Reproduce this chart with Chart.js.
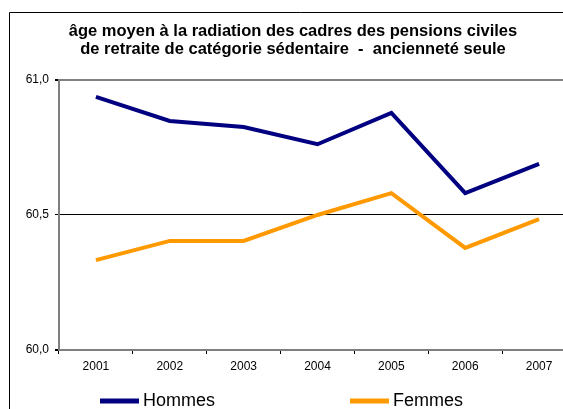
<!DOCTYPE html>
<html><head><meta charset="utf-8">
<script src="https://cdn.jsdelivr.net/npm/chart.js@4"></script>
<style>
html,body{margin:0;padding:0;background:#fff;overflow:hidden;width:563px;height:409px}
#wrap{position:absolute;left:0;top:0;width:590px;height:409px}
canvas{display:block}
</style></head>
<body><div id="wrap"><canvas id="c" width="590" height="409"></canvas></div>
<script>
const categories = ['2001','2002','2003','2004','2005','2006','2007'];
const hommes = [60.937, 60.848, 60.826, 60.762, 60.878, 60.581, 60.689];
const femmes = [60.333, 60.404, 60.404, 60.500, 60.581, 60.378, 60.485];
const seriesNames = ['Hommes','Femmes'];
const seriesColors = ['#000080','#FF9900'];
const yTickValues = [60.0, 60.5, 61.0];
const yTickLabels = ['60,0','60,5','61,0'];
const titleLines = ['âge moyen à la radiation des cadres des pensions civiles',
                    'de retraite de catégorie sédentaire  -  ancienneté seule'];

const FONT = "'Liberation Sans', Arial, sans-serif";
Chart.defaults.font.family = FONT;
Chart.defaults.color = '#000';

const legendX = [100, 350];

const framePlugin = {
  id: 'framePlugin',
  beforeDraw(chart) {
    const ctx = chart.ctx;
    ctx.save();
    ctx.fillStyle = '#fff';
    ctx.fillRect(0, 0, chart.width, chart.height);
    ctx.strokeStyle = '#000';
    ctx.lineWidth = 1;
    ctx.beginPath();
    ctx.moveTo(9.5, chart.height + 5);
    ctx.lineTo(9.5, 12.5);
    ctx.lineTo(chart.width + 5, 12.5);
    ctx.stroke();
    ctx.restore();
  },
  afterDraw(chart) {
    const ctx = chart.ctx;
    ctx.save();
    chart.data.datasets.forEach((ds, i) => {
      const x = legendX[i];
      const y = 401;
      ctx.strokeStyle = ds.borderColor;
      ctx.lineWidth = 5;
      ctx.beginPath();
      ctx.moveTo(x, y);
      ctx.lineTo(x + 39, y);
      ctx.stroke();
      ctx.fillStyle = '#000';
      ctx.font = '18px ' + FONT;
      ctx.textBaseline = 'middle';
      ctx.textAlign = 'left';
      ctx.fillText(ds.label, x + 43, y);
    });
    ctx.restore();
  }
};

new Chart(document.getElementById('c'), {
  type: 'line',
  data: {
    labels: categories,
    datasets: [
      { label: seriesNames[0], data: hommes, borderColor: seriesColors[0], backgroundColor: seriesColors[0],
        borderWidth: 4, pointRadius: 0, tension: 0, fill: false, borderJoinStyle: 'miter' },
      { label: seriesNames[1], data: femmes, borderColor: seriesColors[1], backgroundColor: seriesColors[1],
        borderWidth: 4, pointRadius: 0, tension: 0, fill: false, borderJoinStyle: 'miter' }
    ]
  },
  options: {
    responsive: false,
    animation: false,
    devicePixelRatio: 1,
    layout: { padding: { left: 10, right: 14, top: 22, bottom: 29 } },
    plugins: {
      legend: { display: false },
      tooltip: { enabled: false },
      title: {
        display: true,
        text: titleLines,
        color: '#000',
        font: { family: FONT, size: 16.5, weight: 'bold', lineHeight: 1.12 },
        padding: { top: 0, bottom: 21 }
      }
    },
    scales: {
      x: {
        offset: true,
        grid: { offset: true, drawOnChartArea: false, drawTicks: true, tickLength: 4, tickColor: '#000' },
        border: { display: true, color: '#808080', width: 2 },
        ticks: { font: { size: 12 }, color: '#000', padding: 5, maxRotation: 0 },
        afterFit(scale) { scale.height = 30; }
      },
      y: {
        min: 60, max: 61,
        afterBuildTicks(scale) { scale.ticks = yTickValues.map(v => ({ value: v })); },
        grid: {
          drawTicks: true, tickLength: 4, tickColor: '#000',
          color: ctx => ctx.tick && Math.abs(ctx.tick.value - 60.5) < 1e-6 ? '#000' : '#808080',
          lineWidth: ctx => ctx.tick && Math.abs(ctx.tick.value - 60.5) < 1e-6 ? 1 : 2
        },
        border: { display: true, color: '#808080', width: 2 },
        ticks: {
          font: { size: 12 }, color: '#000', padding: 6,
          callback: (v, i) => yTickLabels[i]
        },
        afterFit(scale) { scale.width = 49; }
      }
    }
  },
  plugins: [framePlugin]
});
</script>
</body></html>
